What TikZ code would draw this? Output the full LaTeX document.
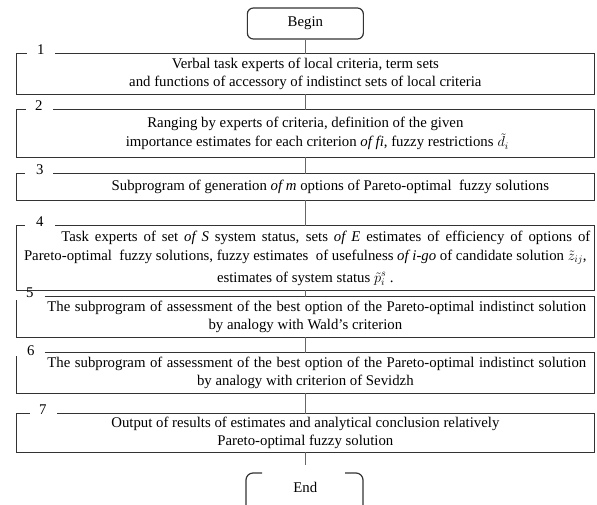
\documentclass[tikz,border=0pt]{standalone}
\usepackage{fontspec}
\setmainfont{Liberation Serif}
\begin{document}
\begin{tikzpicture}[x=1pt,y=-1pt,
  txt/.style={font=\fontsize{14.8}{17.5}\selectfont, align=center, inner sep=0pt},
  bbox/.style={txt, minimum width=577.3pt, draw=none},
  boxline/.style={line width=1.2pt, draw=black!80},
  conn/.style={line width=0.8pt, draw=black!60},
  numlbl/.style={font=\fontsize{14.8}{17}\selectfont, inner sep=0pt, anchor=base},
  termbox/.style={txt, minimum width=116pt, minimum height=31pt, rounded corners=6pt, line width=1.2pt, draw=black!80}]
\useasboundingbox (0,0) rectangle (597,504);

% Begin
\node[termbox] (begin) at (305.35,23.5) {Begin};

% Box 1
\node[bbox, minimum height=40pt] (b1) at (305.35,74)
  {Verbal task experts of local criteria, term sets\\and functions of accessory of indistinct sets of local criteria};
\draw[boxline] ([xshift=10.3pt]b1.north west) -- (b1.north west) -- (b1.south west) -- (b1.south east) -- (b1.north east) -- ([xshift=38.3pt]b1.north west);
\node[numlbl] (n1) at ([xshift=24.3pt,yshift=-1pt]b1.north west) {1};

% Box 2
\node[bbox, minimum height=47pt, font=\fontsize{14.8}{19.5}\selectfont] (b2) at (305.35,133.5)
  {Ranging by experts of criteria, definition of the given\\\hspace*{24pt}importance estimates for each criterion \textit{of fi}, fuzzy restrictions$\;\tilde{d}_i$};
\draw[boxline] ([xshift=9.3pt]b2.north west) -- (b2.north west) -- (b2.south west) -- (b2.south east) -- (b2.north east) -- ([xshift=36.3pt]b2.north west);
\node[numlbl] (n2) at ([xshift=22.3pt,yshift=-1pt]b2.north west) {2};

% Box 3
\node[bbox, minimum height=26pt] (b3) at (305.35,187)
  {\hspace*{50pt}Subprogram of generation \textit{of m} options of Pareto-optimal\ \ fuzzy solutions};
\draw[boxline] ([xshift=8.3pt]b3.north west) -- (b3.north west) -- (b3.south west) -- (b3.south east) -- (b3.north east) -- ([xshift=36.3pt]b3.north west);
\node[numlbl] (n3) at ([xshift=23.3pt,yshift=-1pt]b3.north west) {3};

% Box 4
\node[bbox, minimum height=64pt, font=\fontsize{14.8}{19.5}\selectfont] (b4) at (305.35,258)
  {\hspace*{41pt}\makebox[529pt][s]{Task experts of set \textit{of S} system status, sets \textit{of E} estimates of efficiency of options of}\\
   Pareto-optimal\ \ fuzzy solutions, fuzzy estimates\ \ of usefulness \textit{of i-go} of candidate solution $\smash{\tilde{z}_{ij}}$,\\[2pt]
   estimates of system status $\smash{\tilde{p}_i^s}$ .};
\draw[boxline] ([xshift=8.3pt]b4.north west) -- (b4.north west) -- (b4.south west) -- (b4.south east) -- (b4.north east) -- ([xshift=38.3pt]b4.north west);
\node[numlbl] (n4) at ([xshift=23.3pt,yshift=-1pt]b4.north west) {4};

% Box 5
\node[bbox, minimum height=40pt] (b5) at (305.35,317)
  {\hspace*{23pt}\makebox[539pt][s]{The subprogram of assessment of the best option of the Pareto-optimal indistinct solution}\\by analogy with Wald's criterion};
\draw[boxline] ([xshift=28.3pt]b5.north west) -- (b5.north east) -- (b5.south east) -- (b5.south west) -- ([yshift=-3pt]b5.north west);
\node[numlbl] (n5) at ([xshift=13.3pt,yshift=-1pt]b5.north west) {5};

% Box 6
\node[bbox, minimum height=40pt] (b6) at (305.35,373)
  {\hspace*{23pt}\makebox[539pt][s]{The subprogram of assessment of the best option of the Pareto-optimal indistinct solution}\\by analogy with criterion of Sevidzh};
\draw[boxline] ([xshift=28.3pt]b6.north west) -- (b6.north east) -- (b6.south east) -- (b6.south west) -- ([yshift=-3pt]b6.north west);
\node[numlbl] (n6) at ([xshift=14.3pt,yshift=-3pt]b6.north west) {6};

% Box 7
\node[bbox, minimum height=38pt] (b7) at (305.35,433)
  {Output of results of estimates and analytical conclusion relatively\\Pareto-optimal fuzzy solution};
\draw[boxline] ([xshift=13.3pt]b7.north west) -- (b7.north west) -- (b7.south west) -- (b7.south east) -- (b7.north east) -- ([xshift=40.3pt]b7.north west);
\node[numlbl] (n7) at ([xshift=26.3pt,yshift=-1pt]b7.north west) {7};

% End
\node[txt] (endn) at (305.35,487) {End};
\draw[boxline, rounded corners=7pt] (246,508) -- (246,473) -- (262,473);
\draw[boxline, rounded corners=7pt] (345,473) -- (363,473) -- (363,508);
\coordinate (endgap) at (305.35,465);

% Connectors
\draw[conn] (begin.south) -- (b1.north);
\draw[conn] (b1.south) -- (b2.north);
\draw[conn] (b2.south) -- (b3.north);
\draw[conn] (b3.south) -- (b4.north);
\draw[conn] (b4.south) -- (b5.north);
\draw[conn] (b5.south) -- (b6.north);
\draw[conn] (b6.south) -- (b7.north);
\draw[conn] (b7.south) -- (endgap);
\end{tikzpicture}
\end{document}
